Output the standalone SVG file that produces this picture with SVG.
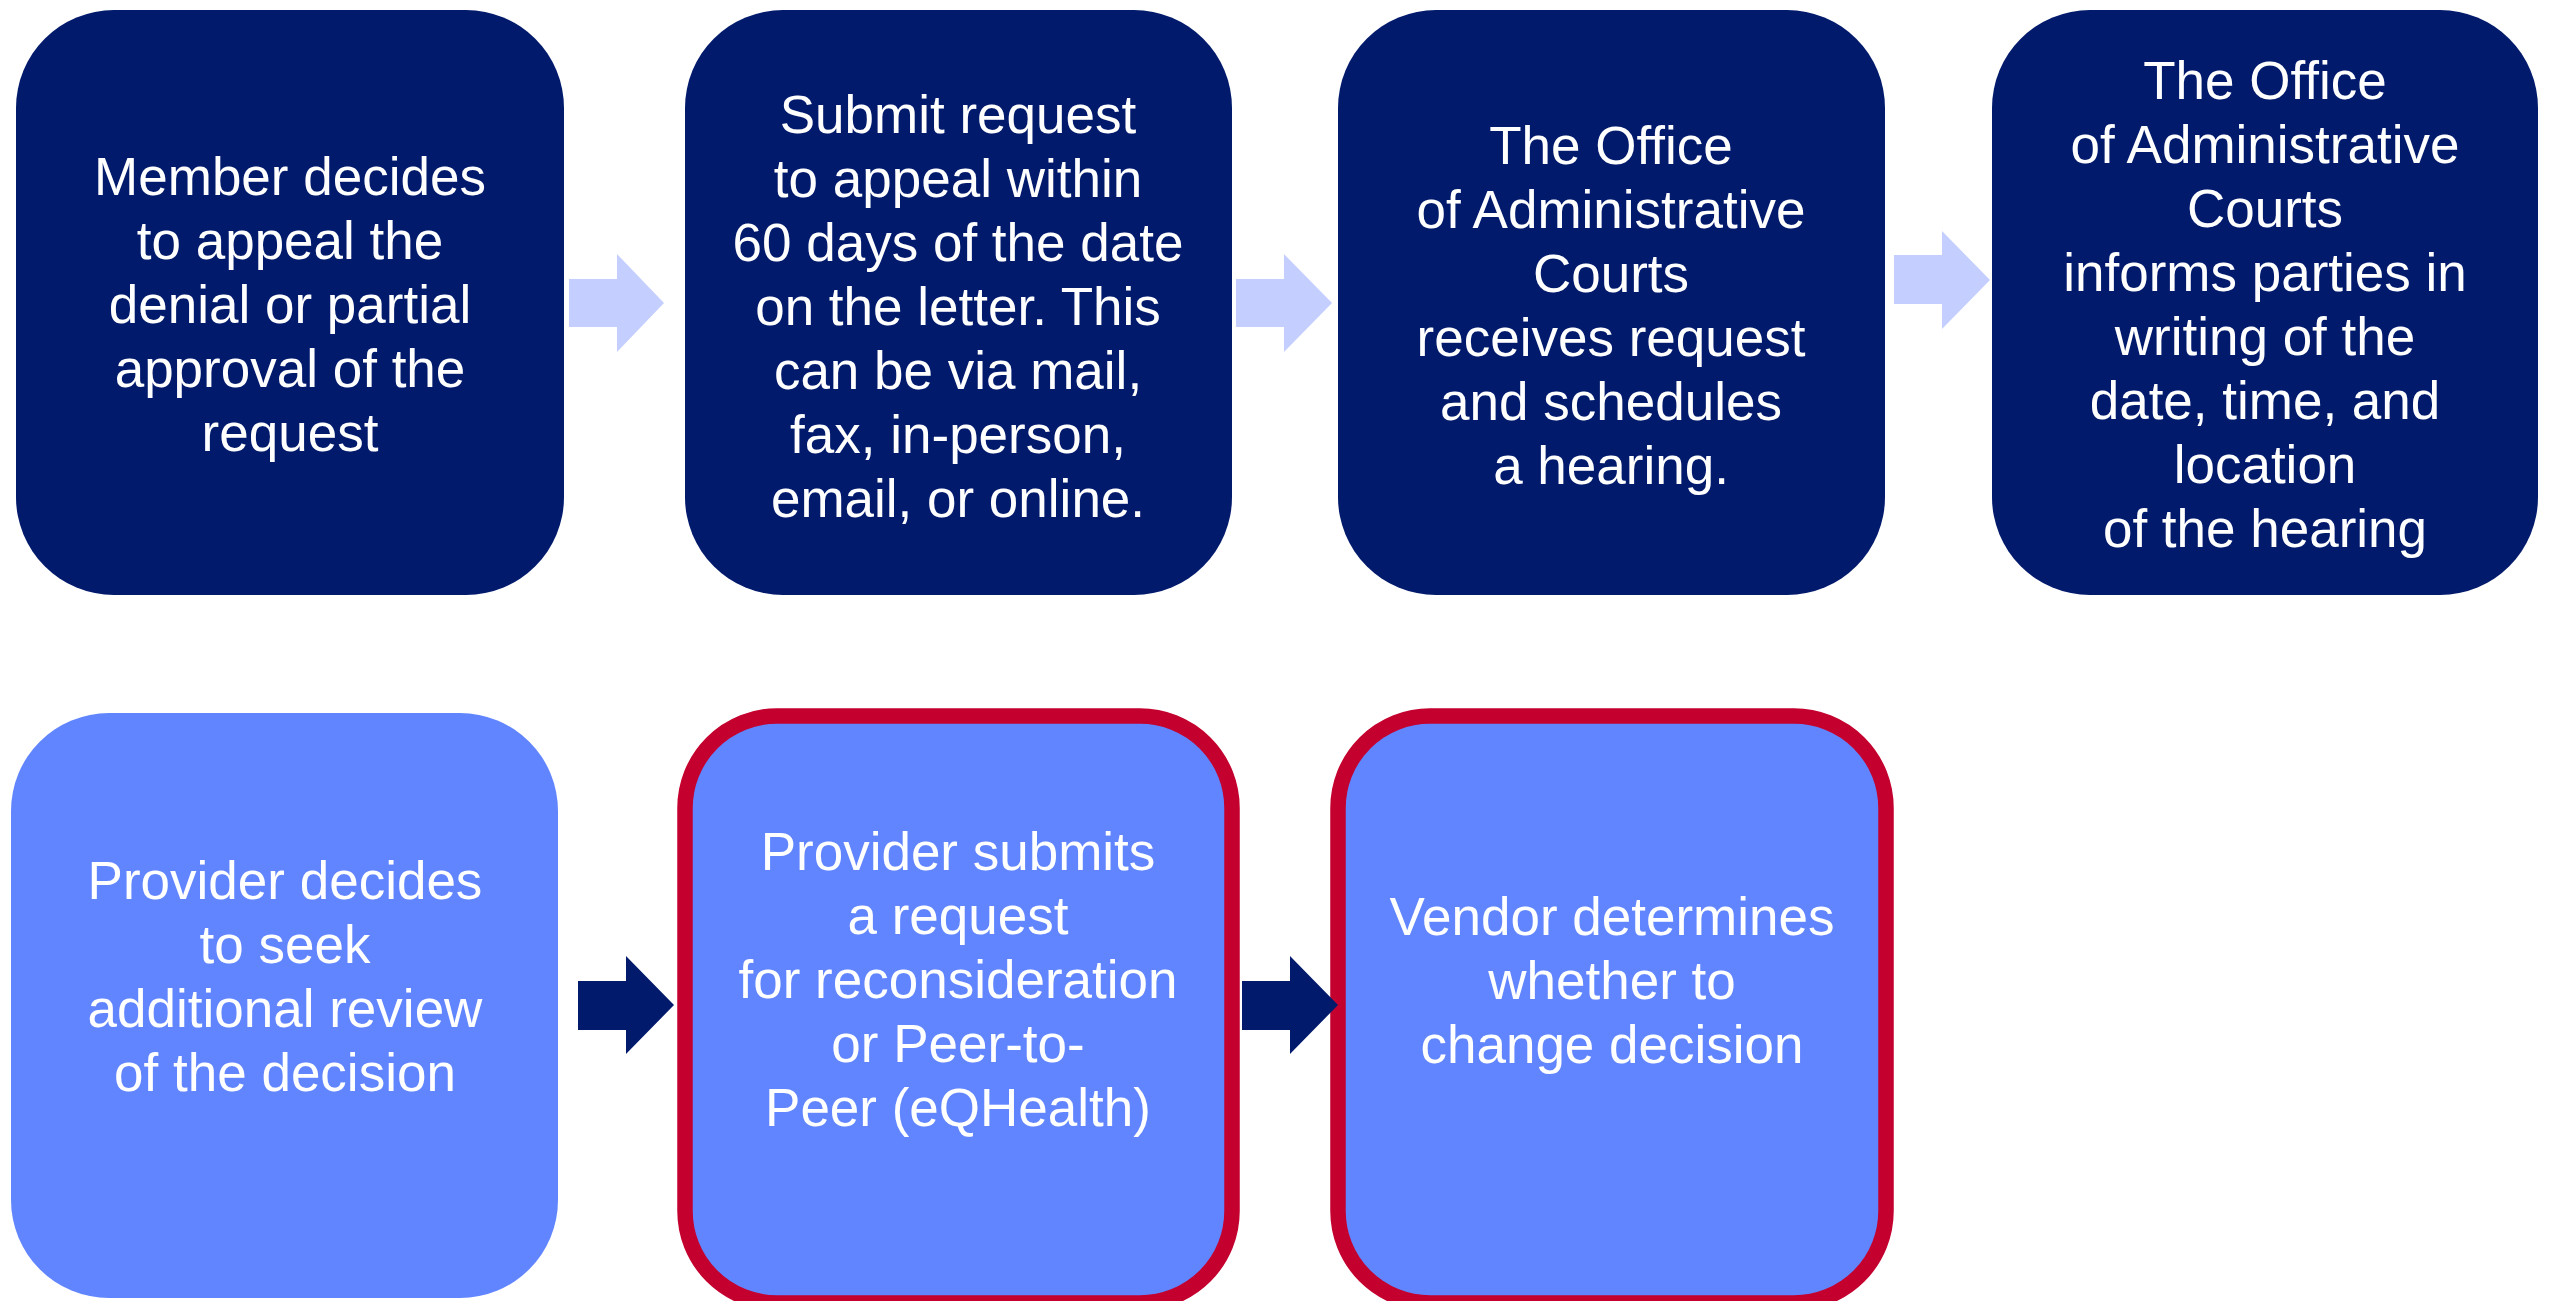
<svg xmlns="http://www.w3.org/2000/svg" width="2550" height="1301" viewBox="0 0 2550 1301">
<style>
.dark{fill:#021a6c;}
.light{fill:#6185ff;}
.red{fill:#6185ff;stroke:#c4002f;stroke-width:15.5;}
.t{font-family:"Liberation Sans",Arial,sans-serif;font-size:53px;fill:#ffffff;text-anchor:middle;}
.a1{fill:#c5cfff;}
.a2{fill:#021a6c;}
</style>
<rect width="2550" height="1301" fill="#ffffff"/>
<g id="member-decides">
<rect class="dark" x="16" y="10" width="548" height="585" rx="98" ry="98"/>
<text class="t" x="290" y="195">Member decides</text>
<text class="t" x="290" y="259">to appeal the</text>
<text class="t" x="290" y="323">denial or partial</text>
<text class="t" x="290" y="387">approval of the</text>
<text class="t" x="290" y="451">request</text>
</g>
<g id="submit-request">
<rect class="dark" x="685" y="10" width="547" height="585" rx="98" ry="98"/>
<text class="t" x="958" y="133">Submit request</text>
<text class="t" x="958" y="197">to appeal within</text>
<text class="t" x="958" y="261">60 days of the date</text>
<text class="t" x="958" y="325">on the letter. This</text>
<text class="t" x="958" y="389">can be via mail,</text>
<text class="t" x="958" y="453">fax, in-person,</text>
<text class="t" x="958" y="517">email, or online.</text>
</g>
<g id="oac-receives">
<rect class="dark" x="1338" y="10" width="547" height="585" rx="98" ry="98"/>
<text class="t" x="1611" y="164">The Office</text>
<text class="t" x="1611" y="228">of Administrative</text>
<text class="t" x="1611" y="292">Courts</text>
<text class="t" x="1611" y="356">receives request</text>
<text class="t" x="1611" y="420">and schedules</text>
<text class="t" x="1611" y="484">a hearing.</text>
</g>
<g id="oac-informs">
<rect class="dark" x="1992" y="10" width="546" height="585" rx="98" ry="98"/>
<text class="t" x="2265" y="99">The Office</text>
<text class="t" x="2265" y="163">of Administrative</text>
<text class="t" x="2265" y="227">Courts</text>
<text class="t" x="2265" y="291">informs parties in</text>
<text class="t" x="2265" y="355">writing of the</text>
<text class="t" x="2265" y="419">date, time, and</text>
<text class="t" x="2265" y="483">location</text>
<text class="t" x="2265" y="547">of the hearing</text>
</g>
<g id="provider-decides">
<rect class="light" x="11" y="713" width="547" height="585" rx="98" ry="98"/>
<text class="t" x="285" y="899">Provider decides</text>
<text class="t" x="285" y="963">to seek</text>
<text class="t" x="285" y="1027">additional review</text>
<text class="t" x="285" y="1091">of the decision</text>
</g>
<g id="provider-submits">
<rect class="red" x="685" y="716" width="547" height="587" rx="92" ry="92"/>
<text class="t" x="958" y="870">Provider submits</text>
<text class="t" x="958" y="934">a request</text>
<text class="t" x="958" y="998">for reconsideration</text>
<text class="t" x="958" y="1062">or Peer-to-</text>
<text class="t" x="958" y="1126">Peer (eQHealth)</text>
</g>
<g id="vendor-determines">
<rect class="red" x="1338" y="716" width="548" height="587" rx="92" ry="92"/>
<text class="t" x="1612" y="935">Vendor determines</text>
<text class="t" x="1612" y="999">whether to</text>
<text class="t" x="1612" y="1063">change decision</text>
</g>
<g id="connectors">
<polygon class="a1" points="569,279 617,279 617,254 664,303 617,352 617,327 569,327"/>
<polygon class="a1" points="1236,279 1284,279 1284,254 1332,303 1284,352 1284,327 1236,327"/>
<polygon class="a1" points="1894,255 1942,255 1942,231 1990,280 1942,329 1942,304 1894,304"/>
<polygon class="a2" points="578,981 626,981 626,956 674,1005 626,1054 626,1030 578,1030"/>
<polygon class="a2" points="1242,981 1290,981 1290,956 1338,1005 1290,1054 1290,1030 1242,1030"/>
</g>
</svg>
